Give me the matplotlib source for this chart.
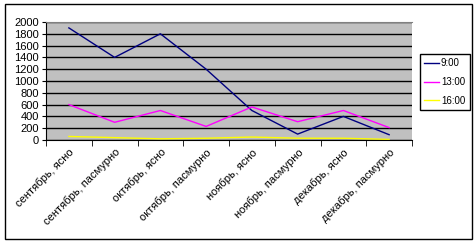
import numpy as np
import matplotlib.pyplot as plt
from matplotlib.patches import Rectangle

plt.rcParams['font.family'] = ['Liberation Sans', 'DejaVu Sans']

categories = ['сентябрь, ясно', 'сентябрь, пасмурно', 'октябрь, ясно', 'октябрь, пасмурно',
              'ноябрь, ясно', 'ноябрь, пасмурно', 'декабрь, ясно', 'декабрь, пасмурно']
s_900 = [1900, 1400, 1800, 1200, 500, 100, 400, 90]
s_1300 = [600, 300, 500, 230, 560, 310, 500, 210]
s_1600 = [60, 40, 20, 30, 50, 30, 30, 10]
series_names = ['9:00', '13:00', '16:00']
series_colors = ['#000080', '#FF00FF', '#FFFF00']

W, H = 476, 246
fig = plt.figure(figsize=(W / 100, H / 100), dpi=100)
# outer chart border
fig.patches.append(Rectangle((5 / W, 1 - 239 / H), 467 / W, 235 / H, transform=fig.transFigure,
                             fill=False, edgecolor='black', linewidth=1.0))

ax = fig.add_axes([46 / W, 1 - 140 / H, 366 / W, 118 / H])
ax.set_facecolor('#C0C0C0')
x = np.arange(len(categories))
for vals, name, col in zip([s_900, s_1300, s_1600], series_names, series_colors):
    ax.plot(x, vals, color=col, linewidth=1.0, label=name)

ax.set_xlim(-0.5, len(categories) - 0.5)
ax.set_ylim(0, 2000)
ax.set_yticks(np.arange(0, 2001, 200))
ax.yaxis.grid(True, color='black', linewidth=1.0)
ax.set_axisbelow(True)
ax.tick_params(axis='y', labelsize=8, length=3, pad=2)

ax.set_xticks(x)
ax.set_xticklabels(categories, rotation=45, ha='right', rotation_mode='anchor', fontsize=8)
ax.tick_params(axis='x', which='major', length=0, pad=5)
ax.set_xticks(np.arange(-0.5, len(categories)), minor=True)
ax.tick_params(axis='x', which='minor', length=4)

for side in ['left', 'bottom']:
    ax.spines[side].set_color('black')
ax.spines['top'].set_color('#808080')
ax.spines['right'].set_visible(False)

leg = fig.legend(loc='upper left', bbox_to_anchor=(420 / W, 1 - 54 / H), fontsize=7,
                 handlelength=1.5, handletextpad=0.2, borderpad=0.45, labelspacing=0.9,
                 borderaxespad=0, fancybox=False, framealpha=1)
leg.get_frame().set_edgecolor('black')
leg.get_frame().set_linewidth(1.0)

fig.savefig('out.png', dpi=100)
